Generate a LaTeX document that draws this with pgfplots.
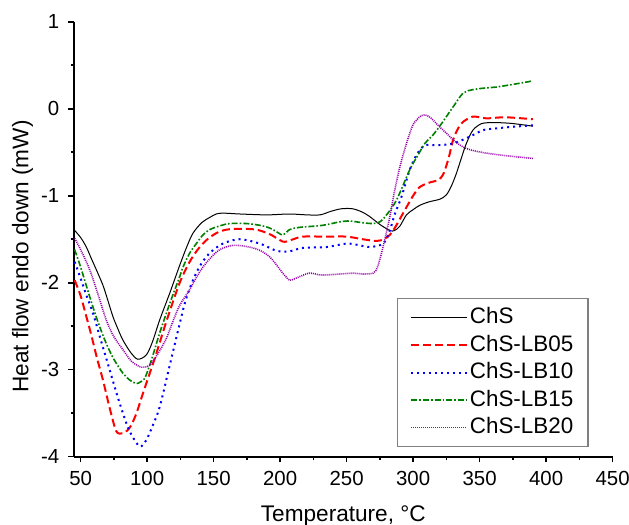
\documentclass[border=0pt]{standalone}
\usepackage{fontspec}
\setmainfont{Liberation Sans}
\usepackage{pgfplots}
\pgfplotsset{compat=1.18}
\definecolor{myred}{RGB}{255,0,0}
\definecolor{myblue}{RGB}{0,0,255}
\definecolor{mygreen}{RGB}{0,128,0}
\definecolor{mypurple}{RGB}{150,0,170}
\begin{document}
\begin{tikzpicture}
\useasboundingbox (-37pt,-33.7pt) rectangle (277.6pt,228.4pt);
\begin{axis}[
  at={(0pt,0pt)}, anchor=south west,
  scale only axis,
  width=269.4pt, height=217.5pt,
  xmin=45, xmax=450, ymin=-4, ymax=1,
  axis x line*=bottom, axis y line*=left,
  axis line style={line width=1pt, -},
  xtick={50,100,...,450}, ytick={-4,-3,...,1},
  minor x tick num=1, minor y tick num=1,
  tick align=outside,
  major tick length=2.8pt, minor tick length=1.6pt,
  tick style={line width=0.8pt, black},
  /pgf/number format/assume math mode=true,
  ticklabel style={font=\fontsize{10.2}{12}\selectfont},
  xticklabel style={yshift=-1pt},
  yticklabel style={xshift=-1pt},
  xlabel={Temperature, °C},
  ylabel={Heat flow endo down (mW)},
  label style={font=\fontsize{11.3}{13}\selectfont},
  xlabel style={at={(axis description cs:0.5,0)}, anchor=base, yshift=-32.5pt},
  ylabel style={at={(axis description cs:0,0.460)}, anchor=base, yshift=22.85pt},
  legend style={at={(0.9555,0.022)}, anchor=south east, draw=gray, line width=0.6pt,
    font=\fontsize{11.2}{13}\selectfont, row sep=0.75pt, inner xsep=6.4pt, inner ysep=3pt,
    nodes={inner sep=1pt, text height=8.5pt, text depth=2.5pt}},
  legend cell align=left,
  legend image code/.code={\draw[#1] (0pt,0pt) -- (25.3pt,0pt); \path (0pt,0pt) -- (27.8pt,0pt);},
]
\addplot[black, line width=0.5pt, smooth] coordinates {
(45,-1.39) (50,-1.48) (54.3,-1.59) (58,-1.72) (61.8,-1.85) (66.8,-2.03) (70,-2.18) (74.3,-2.39) (78,-2.53) (81.8,-2.66) (88,-2.81) (93.1,-2.88) (99.4,-2.83) (104,-2.68) (109.4,-2.43) (117,-2.12) (124.5,-1.80) (130,-1.58) (134.5,-1.43) (141,-1.31) (147,-1.25) (152,-1.21) (157,-1.20) (170,-1.21) (190,-1.22) (207,-1.21) (220,-1.22) (230,-1.22) (238,-1.18) (246,-1.15) (254.6,-1.15) (262,-1.19) (267.4,-1.24) (275,-1.33) (282.5,-1.40) (286,-1.40) (290,-1.35) (295,-1.22) (300,-1.16) (305,-1.11) (312,-1.07) (320,-1.04) (325,-0.99) (329,-0.88) (332.6,-0.74) (336,-0.58) (340,-0.40) (345,-0.245) (351.5,-0.17) (358,-0.16) (365,-0.16) (375,-0.17) (390,-0.20)
};
\addlegendentry{ChS}
\addplot[myred, line width=1pt, dash pattern=on 4pt off 2pt, smooth] coordinates {
(45.5,-1.97) (50,-2.15) (54.3,-2.39) (58,-2.6) (62,-2.85) (66.8,-3.12) (72,-3.45) (76.9,-3.71) (81.8,-3.73) (85,-3.70) (88,-3.64) (92,-3.5) (96.9,-3.27) (102,-3.04) (107,-2.81) (115,-2.42) (124.5,-2.0) (132,-1.76) (138,-1.62) (144.6,-1.51) (152,-1.43) (159.6,-1.39) (170,-1.38) (182,-1.39) (192,-1.44) (199.7,-1.51) (203.5,-1.53) (210,-1.50) (217,-1.47) (235,-1.47) (250,-1.47) (262,-1.50) (272.5,-1.52) (278,-1.50) (282.5,-1.45) (287,-1.35) (292.5,-1.20) (300,-1.0) (305,-0.90) (312,-0.85) (318.8,-0.82) (322,-0.77) (324,-0.70) (327,-0.55) (330,-0.36) (334,-0.22) (337.6,-0.15) (345,-0.09) (355,-0.11) (365,-0.10) (372.7,-0.10) (390,-0.12)
};
\addlegendentry{ChS-LB05}
\addplot[myblue, line width=1pt, dash pattern=on 1pt off 2pt, smooth] coordinates {
(45.5,-1.76) (50,-1.95) (54,-2.13) (59.3,-2.35) (65,-2.65) (71.8,-3.0) (77,-3.27) (81.8,-3.50) (86,-3.68) (90.6,-3.81) (94.9,-3.885) (99.4,-3.81) (104,-3.65) (109.4,-3.43) (117,-2.95) (124.5,-2.47) (129,-2.2) (134.5,-1.97) (140,-1.80) (147,-1.66) (157,-1.55) (169.6,-1.50) (184.7,-1.55) (195,-1.62) (199.7,-1.64) (207,-1.64) (217,-1.60) (234.9,-1.59) (250,-1.55) (260,-1.57) (267.5,-1.59) (277.5,-1.55) (282.5,-1.40) (286,-1.22) (291.3,-1.01) (297.5,-0.70) (303,-0.52) (308.8,-0.42) (317.6,-0.42) (330,-0.40) (342.6,-0.32) (352.6,-0.245) (360,-0.23) (372.7,-0.21) (390,-0.19)
};
\addlegendentry{ChS-LB10}
\addplot[mygreen, line width=0.8pt, dash pattern=on 3pt off 1pt on 0.8pt off 1pt, smooth] coordinates {
(45.5,-1.62) (50,-1.82) (56.8,-2.16) (63,-2.45) (69.3,-2.70) (75,-2.88) (81.8,-3.04) (87,-3.12) (91.9,-3.16) (95,-3.14) (98.2,-3.10) (103,-2.90) (109.4,-2.58) (117,-2.24) (124.5,-1.93) (127,-1.82) (132,-1.66) (137,-1.55) (142,-1.45) (147,-1.39) (154,-1.35) (162,-1.32) (175,-1.32) (184.7,-1.34) (192,-1.37) (197,-1.41) (202,-1.45) (207,-1.39) (212,-1.37) (217,-1.36) (232,-1.34) (245,-1.30) (252,-1.29) (262,-1.31) (270,-1.32) (275,-1.30) (280,-1.22) (287.5,-1.05) (297.5,-0.70) (303,-0.55) (308.8,-0.40) (315,-0.30) (320,-0.20) (325,-0.09) (330,0.02) (337.6,0.18) (345,0.22) (355,0.24) (362.7,0.25) (375,0.28) (390,0.32)
};
\addlegendentry{ChS-LB15}
\addplot[mypurple, line width=0.8pt, dash pattern=on 0.5pt off 0.5pt, smooth] coordinates {
(45.5,-1.49) (50,-1.62) (56.8,-1.85) (63,-2.13) (69.3,-2.43) (75,-2.62) (81.8,-2.77) (88,-2.90) (94.4,-2.965) (98,-2.97) (101.9,-2.95) (108,-2.82) (114.5,-2.64) (119,-2.46) (124.5,-2.26) (132,-2.08) (137,-1.94) (142,-1.82) (148,-1.71) (154.6,-1.62) (164.6,-1.57) (177,-1.59) (185,-1.63) (192,-1.70) (197,-1.79) (202,-1.89) (207,-1.97) (210,-1.96) (214.7,-1.93) (222,-1.89) (229.8,-1.91) (234.9,-1.91) (245,-1.90) (255,-1.89) (262,-1.90) (270,-1.89) (273,-1.83) (275,-1.73) (278,-1.55) (282.5,-1.24) (286,-0.95) (290,-0.67) (294,-0.45) (297.5,-0.28) (300,-0.18) (302.6,-0.13) (306,-0.08) (308.8,-0.07) (312,-0.09) (315,-0.13) (320,-0.21) (325,-0.28) (331,-0.37) (337.6,-0.44) (345,-0.48) (355,-0.51) (370,-0.54) (390,-0.57)
};
\addlegendentry{ChS-LB20}
\end{axis}
\end{tikzpicture}
\end{document}
